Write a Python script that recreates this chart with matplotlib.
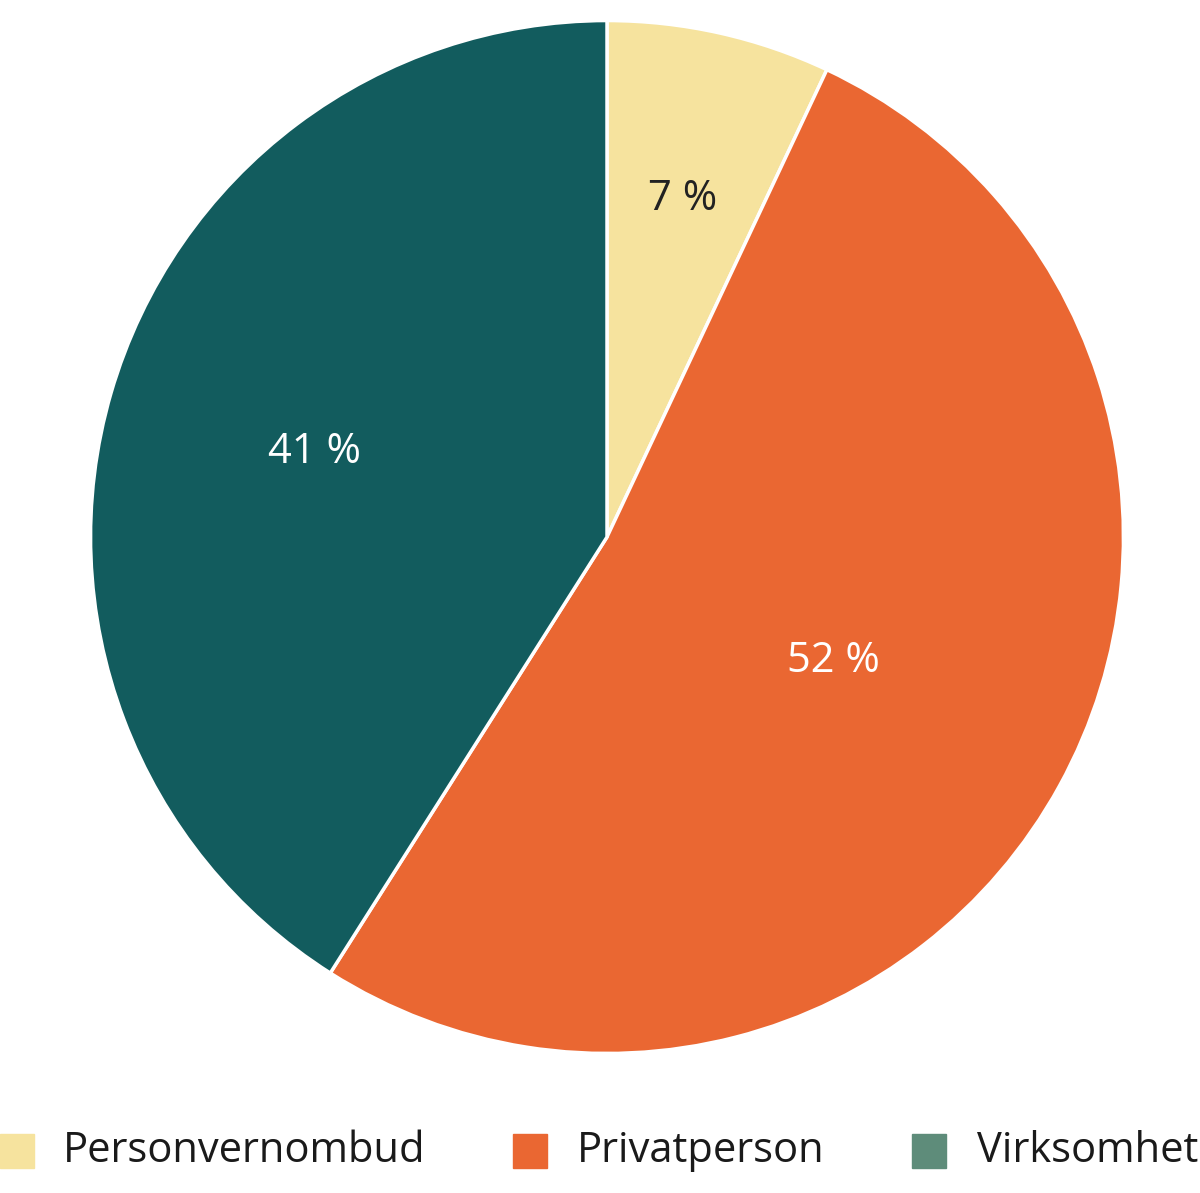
import numpy as np
import matplotlib.pyplot as plt
from matplotlib.patches import Rectangle

categories = ['Personvernombud', 'Privatperson', 'Virksomhet']
values = [7, 52, 41]
slice_colors = ['#f6e39e', '#ea6732', '#125c5e']
legend_colors = ['#f6e39e', '#ea6732', '#5e8c7a']
label_colors = ['#222222', 'white', 'white']
label_radius = [0.67, 0.50, 0.59]

plt.rcParams['font.family'] = ['Open Sans', 'DejaVu Sans']
W, H = 1200, 1193
fig = plt.figure(figsize=(12, 11.93), dpi=100)
ax = fig.add_axes([89 / W, (H - 1055) / H, 1036 / W, 1036 / H])
wedges, _ = ax.pie(values, colors=slice_colors, startangle=90, counterclock=False,
                   wedgeprops=dict(edgecolor='white', linewidth=2.5))
ax.set_aspect('equal')
ax.set_xlim(-1.003, 1.003)
ax.set_ylim(-1.003, 1.003)

for w, v, c, r in zip(wedges, values, label_colors, label_radius):
    ang = np.deg2rad((w.theta1 + w.theta2) / 2)
    ax.text(r * np.cos(ang), r * np.sin(ang), f'{v} %', color=c,
            fontsize=30, ha='center', va='center')

# legend along the bottom
sq_x = [0, 513, 912]
txt_x = [63, 577, 977]
yc = 1151
for name, col, sx, tx in zip(categories, legend_colors, sq_x, txt_x):
    fig.patches.append(Rectangle((sx / W, (H - yc - 17) / H), 34 / W, 34 / H,
                                 transform=fig.transFigure, color=col))
    fig.text(tx / W, (H - yc) / H, name, fontsize=30, va='center', ha='left',
             color='#1a1a1a')

fig.savefig('out.png', dpi=100)
